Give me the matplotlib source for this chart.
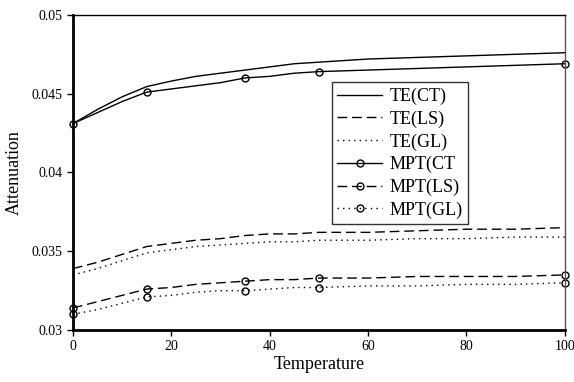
import matplotlib
matplotlib.use("Agg")
import matplotlib.pyplot as plt

temps = [0, 5, 10, 15, 20, 25, 30, 35, 40, 45, 50, 60, 70, 80, 90, 100]
te_ct = [0.0431, 0.0440, 0.0448, 0.04545, 0.0458, 0.0461, 0.0463, 0.0465, 0.0467, 0.0469, 0.0470, 0.0472, 0.0473, 0.0474, 0.0475, 0.0476]
te_ls = [0.0339, 0.0343, 0.0348, 0.0353, 0.0355, 0.0357, 0.0358, 0.0360, 0.0361, 0.0361, 0.0362, 0.0362, 0.0363, 0.0364, 0.0364, 0.0365]
te_gl = [0.0335, 0.0339, 0.0344, 0.0349, 0.0351, 0.0353, 0.0354, 0.0355, 0.0356, 0.0356, 0.0357, 0.0357, 0.0358, 0.0358, 0.0359, 0.0359]
mpt_ct = [0.0431, 0.0438, 0.0445, 0.0451, 0.0453, 0.0455, 0.0457, 0.0460, 0.0461, 0.0463, 0.0464, 0.0465, 0.0466, 0.0467, 0.0468, 0.0469]
mpt_ls = [0.0314, 0.0318, 0.0322, 0.0326, 0.0327, 0.0329, 0.0330, 0.0331, 0.0332, 0.0332, 0.0333, 0.0333, 0.0334, 0.0334, 0.0334, 0.0335]
mpt_gl = [0.0310, 0.0313, 0.0317, 0.0321, 0.0322, 0.0324, 0.0325, 0.0325, 0.0326, 0.0327, 0.0327, 0.0328, 0.0328, 0.0329, 0.0329, 0.0330]
marker_idx = [0, 3, 7, 10, 15]
labels = ["TE(CT)", "TE(LS)", "TE(GL)", "MPT(CT", "MPT(LS)", "MPT(GL)"]
xticks = [0, 20, 40, 60, 80, 100]
yticks = [0.03, 0.035, 0.04, 0.045, 0.05]
ytick_labels = ["0.03", "0.035", "0.04", "0.045", "0.05"]

plt.rcParams['font.family'] = ['Liberation Serif', 'DejaVu Serif']

fig = plt.figure(figsize=(5.74, 3.82), dpi=100)
ax = fig.add_axes([0.127, 0.136, 0.857, 0.825])

dash = (0, (7, 3.5))
dot = (0, (1, 3))
lw = 1.0
ax.plot(temps, te_ct, color='black', lw=lw, ls='-', label=labels[0])
ax.plot(temps, te_ls, color='black', lw=lw, ls=dash, label=labels[1])
ax.plot(temps, te_gl, color='black', lw=lw, ls=dot, label=labels[2])
mk = dict(marker='o', markersize=5, markerfacecolor='none', markeredgecolor='black',
          markeredgewidth=1.0, markevery=marker_idx)
ax.plot(temps, mpt_ct, color='black', lw=lw, ls='-', label=labels[3], **mk)
ax.plot(temps, mpt_ls, color='black', lw=lw, ls=dash, label=labels[4], **mk)
ax.plot(temps, mpt_gl, color='black', lw=lw, ls=dot, label=labels[5], **mk)

ax.set_xlim(0, 100)
ax.set_ylim(0.03, 0.05)
ax.set_xticks(xticks)
ax.set_yticks(yticks)
ax.set_yticklabels(ytick_labels)
ax.tick_params(direction='out', length=4, width=1, labelsize=10)
ax.set_xlabel("Temperature", fontsize=13, labelpad=2)
ax.set_ylabel("Attenuation", fontsize=13, labelpad=6)

ax.spines['left'].set_linewidth(2)
ax.spines['bottom'].set_linewidth(2)
ax.spines['top'].set_linewidth(1)
ax.spines['right'].set_linewidth(1)
ax.spines['right'].set_color('#555555')
for l in ax.lines:
    l.set_clip_on(False)

leg = ax.legend(loc='upper left', bbox_to_anchor=(0.526, 0.786), fontsize=13,
                frameon=True, fancybox=False, framealpha=1, edgecolor='#333333',
                handlelength=2.5, handletextpad=0.4, labelspacing=0.3,
                borderpad=0.3, borderaxespad=0)
leg.get_frame().set_linewidth(1.0)

fig.savefig("out.png", dpi=100)
